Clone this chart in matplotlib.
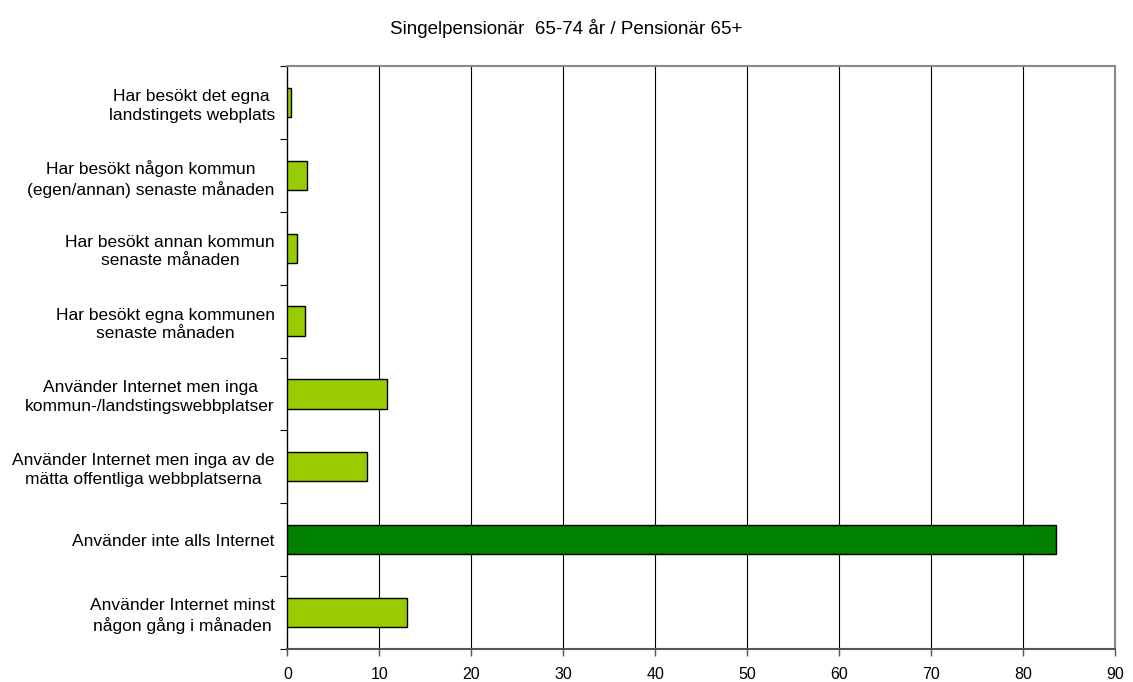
import matplotlib
matplotlib.use("Agg")
import matplotlib.pyplot as plt
import numpy as np

plt.rcParams['font.family'] = ['Liberation Sans', 'DejaVu Sans']

categories = [
    "Använder Internet minst\nnågon gång i månaden",
    "Använder inte alls Internet",
    "Använder Internet men inga av de\nmätta offentliga webbplatserna",
    "Använder Internet men inga\nkommun-/landstingswebbplatser",
    "Har besökt egna kommunen\nsenaste månaden",
    "Har besökt annan kommun\nsenaste månaden",
    "Har besökt någon kommun\n(egen/annan) senaste månaden",
    "Har besökt det egna\nlandstingets webplats",
]
values = [13.0, 83.6, 8.7, 10.8, 1.9, 1.0, 2.1, 0.4]
colors = ["#99CC00", "#008000", "#99CC00", "#99CC00", "#99CC00", "#99CC00", "#99CC00", "#99CC00"]
xticks = [0, 10, 20, 30, 40, 50, 60, 70, 80, 90]
title = "Singelpensionär  65-74 år / Pensionär 65+"

fig = plt.figure(figsize=(11.33, 6.82), dpi=100)
ax = fig.add_axes([0.2536, 0.0484, 0.984 - 0.2536, 0.9032 - 0.0484])

y = np.arange(len(categories))
ax.barh(y, values, height=0.4, color=colors, edgecolor="black", linewidth=1.0, zorder=3)

ax.set_xlim(0, 90)
ax.set_ylim(-0.5, len(categories) - 0.5)
ax.set_xticks(xticks)
ax.set_xticklabels([str(t) for t in xticks], fontsize=11.5)
ax.set_yticks(y)
labels = ax.set_yticklabels(categories, fontsize=12.5)
for lab in labels:
    lab.set_multialignment('center')
    lab.set_linespacing(1.3)
ax.set_yticks(np.arange(-0.5, len(categories), 1), minor=True)
ax.tick_params(axis='y', which='major', length=0, pad=9)
ax.tick_params(axis='y', which='minor', length=5, width=0.8, color='black')
ax.tick_params(axis='x', which='major', length=5, width=1, color='#555555', pad=8)

for t in xticks[1:-1]:
    ax.axvline(t, color='black', linewidth=0.8, zorder=1)

ax.spines['left'].set_color('black')
ax.spines['left'].set_linewidth(1.0)
ax.spines['bottom'].set_color('#555555')
ax.spines['bottom'].set_linewidth(1.5)
ax.spines['top'].set_color('#888888')
ax.spines['top'].set_linewidth(1.5)
ax.spines['right'].set_color('#888888')
ax.spines['right'].set_linewidth(1.5)

fig.text(0.5, 1 - 29 / 682, title, ha='center', va='center', fontsize=13.5)

fig.savefig("out.png", dpi=100)
